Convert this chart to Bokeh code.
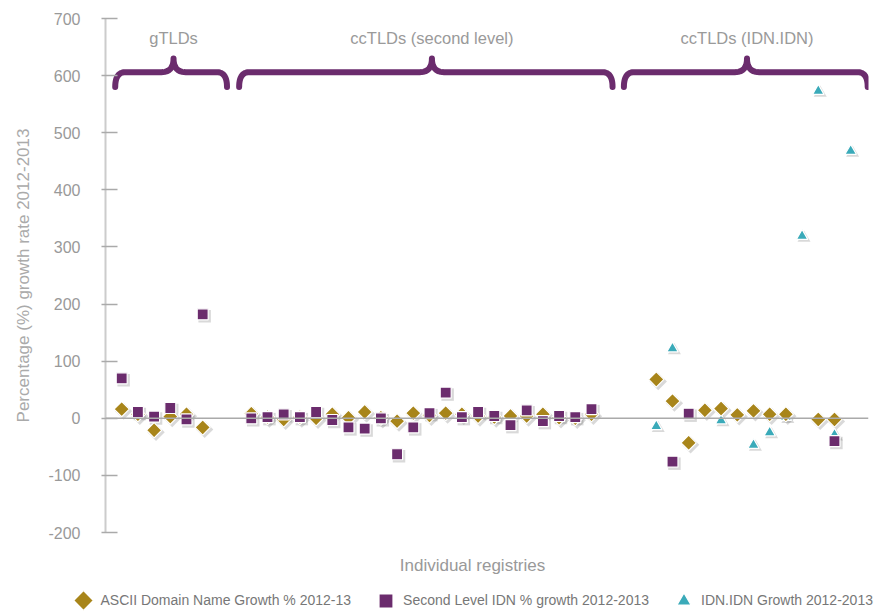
import numpy as np
from bokeh.plotting import figure
from bokeh.layouts import column, row
from bokeh.models import Span, Label, Legend, LegendItem, FixedTicker, Range1d, NumeralTickFormatter
from bokeh.embed import file_html
from bokeh.resources import INLINE

nan = float("nan")

# ---- data ----
series_names = ["ASCII Domain Name Growth % 2012-13",
                "Second Level IDN % growth 2012-2013",
                "IDN.IDN Growth 2012-2013"]

gtld_pos = [1, 2, 3, 4, 5, 6]
gtld_ascii = [16, 7, -21, 3, 7, -16]
gtld_idn2 = [70, 11, 3, 18, -2, 182]

cc_pos = list(range(9, 31))
cc_ascii = [8, 2, -2, 2, 0, 7, 1, 11, 1, -5, 9, 5, 9, 7, 4, 2, 4, 4, 7, 1, 0, 7]
cc_idn2 = [0, 2, 7, 2, 11, -3, -16, -18, 0, -63, -16, 9, 45, 2, 11, 4, -12, 14, -5, 4, 2, 16]

idn_pos = list(range(34, 47))
idn_ascii = [68, 30, -43, 14, 17, 6, 13, 7, 7, nan, -2, -2, nan]
idn_idn2 = [nan, -76, 8, nan, nan, nan, nan, nan, nan, nan, nan, -40, nan]
idn_idnidn = [-14, 122, nan, nan, -4, nan, -47, -25, 2, 319, 573, -29, 468]

group_labels = ["gTLDs", "ccTLDs (second level)", "ccTLDs (IDN.IDN)"]
group_spans = [(0.6, 7.5, 4.2), (8.25, 31.3, 20.15), (32.0, 47.05, 39.6)]

y_ticks = list(range(-200, 701, 100))
x_title = "Individual registries"
y_title = "Percentage (%) growth rate 2012-2013"

# ---- colours ----
GOLD = "#A8851A"
PURPLE = "#6B2C6D"
TEAL = "#3AAAB9"

x_all = np.array(gtld_pos + cc_pos + idn_pos, dtype=float)
ascii_all = np.array(gtld_ascii + cc_ascii + idn_ascii, dtype=float)
idn2_all = np.array(gtld_idn2 + cc_idn2 + idn_idn2, dtype=float)
idnidn_all = np.array([nan] * (len(gtld_pos) + len(cc_pos)) + idn_idnidn, dtype=float)

W, H_MAIN, H_FOOT = 877, 545, 68

p = figure(width=W, height=H_MAIN, x_range=Range1d(0, 47.1), y_range=Range1d(-200, 700),
           output_backend="svg", toolbar_location=None, x_axis_location=None,
           min_border_left=105, min_border_right=9, min_border_top=18, min_border_bottom=13)
p.outline_line_color = None
p.grid.visible = False
p.background_fill_color = "white"
p.border_fill_color = "white"

ya = p.yaxis[0]
ya.ticker = FixedTicker(ticks=y_ticks)
ya.formatter = NumeralTickFormatter(format="0")
ya.axis_line_color = "#cccccc"
ya.axis_line_width = 2
ya.major_tick_line_color = "#aaaaaa"
ya.major_tick_line_width = 1.5
ya.major_tick_in = 12
ya.major_tick_out = 4
ya.minor_tick_line_color = None
ya.major_label_text_font = "Liberation Sans"
ya.major_label_text_font_size = "16px"
ya.major_label_text_color = "#999999"
ya.major_label_standoff = 21
ya.axis_label = y_title
ya.axis_label_text_font = "Liberation Sans"
ya.axis_label_text_font_size = "17px"
ya.axis_label_text_font_style = "normal"
ya.axis_label_text_color = "#aaaaaa"
ya.axis_label_standoff = 12

p.add_layout(Span(location=0, dimension="width", line_color="#aaaaaa", line_width=1.5))

# braces
def qbez(a, c, b, n=14):
    t = np.linspace(0, 1, n)[:, None]
    a, c, b = np.array(a), np.array(c), np.array(b)
    return (1 - t) ** 2 * a + 2 * (1 - t) * t * c + t ** 2 * b

yb, yt, yp = 580, 606, 630
rx, rxp = 0.62, 0.75
for (x0, x1, xm), lab in zip(group_spans, group_labels):
    pts = np.vstack([
        qbez((x0, yb), (x0, yt), (x0 + rx, yt)),
        qbez((xm - rxp, yt), (xm, yt), (xm, yp)),
        qbez((xm, yp), (xm, yt), (xm + rxp, yt)),
        qbez((x1 - rx, yt), (x1, yt), (x1, yb)),
    ])
    p.line(pts[:, 0], pts[:, 1], line_color=PURPLE, line_width=6,
           line_cap="round", line_join="round")
    p.add_layout(Label(x=xm, y=665, text=lab, text_align="center", text_baseline="middle",
                       text_font="Liberation Sans", text_font_size="16.5px",
                       text_color="#9a9a9a"))

# marker styles
styles = {
    "dia": dict(marker="square", angle=np.pi / 4, size=10.8, fill_color=GOLD),
    "sq": dict(marker="square", angle=0.0, size=11, fill_color=PURPLE),
    "tri": dict(marker="triangle", angle=0.0, size=11.5, fill_color=TEAL),
}

# shadows
sdx, sdy = 0.12, -3.5
for ys, key in [(idnidn_all, "tri"), (ascii_all, "dia"), (idn2_all, "sq")]:
    st = styles[key]
    p.scatter(x_all + sdx, ys + sdy, marker=st["marker"], size=st["size"] + 1.5,
              angle=st["angle"], fill_color="black", fill_alpha=0.15, line_color=None)

p.scatter(x_all, idnidn_all, line_color="white", line_width=1.2, **styles["tri"])
p.scatter(x_all, ascii_all, line_color="white", line_width=1.2, **styles["dia"])
p.scatter(x_all, idn2_all, line_color="white", line_width=1.2, **styles["sq"])

# ---- footer: x title and legend (pixel-like coordinates) ----
q = figure(width=W, height=H_FOOT, x_range=Range1d(0, W), y_range=Range1d(H_FOOT, 0),
           output_backend="svg", toolbar_location=None,
           x_axis_location=None, y_axis_location=None, min_border=0)
q.outline_line_color = None
q.grid.visible = False
q.background_fill_color = "white"
q.border_fill_color = "white"

q.add_layout(Label(x=472, y=20, text=x_title, text_align="center", text_baseline="middle",
                   text_font="Liberation Sans", text_font_size="17px", text_color="#999999"))

LEG_X, LEG_Y, GLYPH = 65.5, -4.5, 35

# legend-only renderers (no visible points); the legend cannot rotate glyphs,
# so the diamond entry is drawn as an overlay on a transparent legend glyph
lr_dia = q.scatter([nan], [nan], marker="square", size=14, fill_alpha=0, line_alpha=0)
lr_sq = q.scatter([nan], [nan], line_color="white", line_width=1.2, **styles["sq"])
lr_tri = q.scatter([nan], [nan], line_color="white", line_width=1.2, **styles["tri"])

legend = Legend(items=[LegendItem(label=series_names[0], renderers=[lr_dia]),
                       LegendItem(label=series_names[1], renderers=[lr_sq]),
                       LegendItem(label=series_names[2], renderers=[lr_tri])],
                orientation="horizontal", location=(LEG_X, LEG_Y),
                glyph_width=GLYPH, glyph_height=GLYPH, label_standoff=0, spacing=17,
                padding=0, margin=0, border_line_color=None, background_fill_alpha=0,
                label_text_font="Liberation Sans", label_text_font_size="14px",
                label_text_color="#777777")
q.add_layout(legend)

dia_cx = LEG_X + GLYPH / 2
dia_cy = H_FOOT + LEG_Y * -1 - GLYPH / 2
q.scatter([dia_cx], [dia_cy], marker="square", angle=np.pi / 4, size=14,
          fill_color=GOLD, line_color="white", line_width=1.2)

layout = column(p, row(q), spacing=0)
open("out.html", "w").write(file_html(layout, INLINE))
